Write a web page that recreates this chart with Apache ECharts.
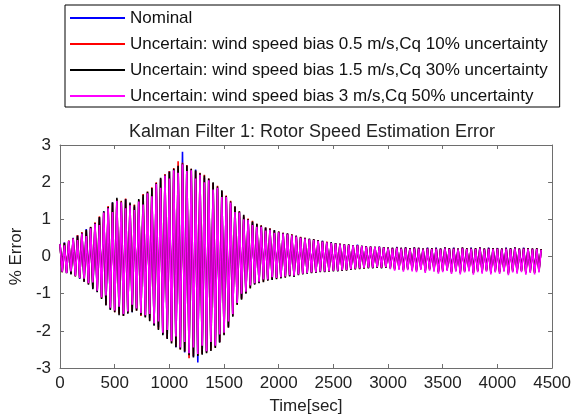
<!DOCTYPE html>
<html>
<head>
<meta charset="utf-8">
<script src="https://cdn.jsdelivr.net/npm/echarts@6/dist/echarts.min.js"></script>
<style>
html,body{margin:0;padding:0;background:#fff;}
#chart{width:574px;height:420px;}
</style>
</head>
<body>
<div id="chart"></div>
<script>
// ---- data ----
var sampleStep = 20; // seconds between samples
var xTicks = [0, 500, 1000, 1500, 2000, 2500, 3000, 3500, 4000, 4500];
var yTicks = [-3, -2, -1, 0, 1, 2, 3];
var seriesNames = [
  'Nominal',
  'Uncertain: wind speed bias 0.5 m/s,Cq 10% uncertainty',
  'Uncertain: wind speed bias 1.5 m/s,Cq 30% uncertainty',
  'Uncertain: wind speed bias 3 m/s,Cq 50% uncertainty'
];

var nominal = [
0.34,-0.40,0.38,-0.44,0.41,-0.47,0.50,-0.50,0.57,-0.60,
0.63,-0.68,0.74,-0.70,0.78,-0.86,0.86,-0.95,1.05,-1.08,
1.22,-1.30,1.28,-1.42,1.45,-1.44,1.48,-1.50,1.44,-1.58,
1.55,-1.50,1.36,-1.50,1.33,-1.42,1.50,-1.55,1.60,-1.62,
1.72,-1.66,1.80,-1.84,1.98,-1.90,2.08,-2.10,2.15,-2.20,
2.30,-2.26,2.35,-2.44,2.42,-2.48,2.82,-2.58,2.44,-2.62,
2.30,-2.70,2.34,-2.85,2.18,-2.60,2.12,-2.56,2.08,-2.45,
1.98,-2.42,1.82,-2.30,1.75,-2.02,1.62,-1.88,1.42,-1.58,
1.33,-1.22,1.20,-1.12,1.06,-0.97,1.00,-0.80,0.92,-0.74,
0.86,-0.70,0.82,-0.64,0.77,-0.63,0.70,-0.62,0.70,-0.57,
0.66,-0.58,0.63,-0.52,0.62,-0.51,0.55,-0.53,0.56,-0.47,
0.52,-0.45,0.49,-0.45,0.47,-0.42,0.46,-0.43,0.43,-0.39,
0.42,-0.41,0.37,-0.38,0.38,-0.37,0.36,-0.39,0.34,-0.36,
0.33,-0.35,0.32,-0.35,0.31,-0.32,0.32,-0.31,0.29,-0.30,
0.28,-0.29,0.27,-0.31,0.26,-0.28,0.27,-0.29,0.25,-0.28,
0.24,-0.29,0.23,-0.31,0.26,-0.30,0.23,-0.33,0.25,-0.31,
0.22,-0.32,0.25,-0.34,0.23,-0.30,0.21,-0.36,0.24,-0.32,
0.22,-0.33,0.24,-0.38,0.21,-0.35,0.25,-0.33,0.22,-0.39,
0.24,-0.34,0.21,-0.40,0.24,-0.36,0.22,-0.34,0.24,-0.41,
0.22,-0.35,0.25,-0.38,0.21,-0.35,0.24,-0.40,0.22,-0.36,
0.23,-0.39,0.21,-0.35,0.24,-0.42,0.22,-0.36,0.25,-0.38,
0.21,-0.35,0.24,-0.41,0.22,-0.37,0.21,-0.40,0.22,-0.36,0.20
];

var bias05 = [
0.33,-0.42,0.37,-0.43,0.43,-0.46,0.49,-0.53,0.58,-0.58,
0.66,-0.67,0.71,-0.74,0.80,-0.85,0.92,-0.93,1.08,-1.12,
1.20,-1.30,1.36,-1.40,1.44,-1.50,1.55,-1.54,1.50,-1.60,
1.56,-1.52,1.42,-1.47,1.40,-1.45,1.52,-1.60,1.68,-1.62,
1.75,-1.72,1.86,-1.82,2.00,-1.95,2.10,-2.08,2.22,-2.20,
2.30,-2.32,2.38,-2.40,2.56,-2.50,2.52,-2.55,2.46,-2.74,
2.36,-2.68,2.30,-2.66,2.25,-2.62,2.20,-2.58,2.10,-2.52,
1.98,-2.45,1.90,-2.30,1.76,-2.10,1.64,-1.90,1.50,-1.60,
1.34,-1.30,1.22,-1.14,1.10,-0.98,1.02,-0.85,0.96,-0.74,
0.88,-0.70,0.84,-0.68,0.78,-0.64,0.76,-0.61,0.70,-0.60,
0.67,-0.57,0.64,-0.56,0.62,-0.52,0.60,-0.53,0.56,-0.49,
0.53,-0.47,0.50,-0.45,0.47,-0.44,0.46,-0.43,0.44,-0.41,
0.41,-0.41,0.40,-0.40,0.37,-0.39,0.36,-0.38,0.35,-0.38,
0.33,-0.37,0.32,-0.35,0.31,-0.34,0.31,-0.33,0.29,-0.32,
0.28,-0.31,0.27,-0.31,0.26,-0.30,0.26,-0.31,0.25,-0.30,
0.24,-0.31,0.23,-0.34,0.25,-0.32,0.23,-0.36,0.24,-0.33,
0.22,-0.35,0.24,-0.37,0.23,-0.32,0.21,-0.39,0.23,-0.34,
0.22,-0.36,0.23,-0.41,0.21,-0.38,0.24,-0.35,0.22,-0.42,
0.23,-0.37,0.21,-0.43,0.24,-0.39,0.22,-0.36,0.23,-0.44,
0.22,-0.38,0.24,-0.41,0.21,-0.37,0.23,-0.43,0.22,-0.39,
0.23,-0.42,0.21,-0.37,0.23,-0.45,0.22,-0.39,0.24,-0.41,
0.21,-0.38,0.23,-0.44,0.22,-0.40,0.21,-0.43,0.22,-0.39,0.20
];

var bias15 = [
0.32,-0.42,0.36,-0.45,0.42,-0.48,0.48,-0.54,0.56,-0.59,
0.64,-0.68,0.72,-0.76,0.79,-0.88,0.90,-0.96,1.06,-1.14,
1.22,-1.32,1.33,-1.44,1.46,-1.50,1.58,-1.58,1.48,-1.60,
1.54,-1.54,1.45,-1.50,1.38,-1.46,1.55,-1.58,1.66,-1.64,
1.74,-1.74,1.84,-1.86,1.97,-1.98,2.12,-2.12,2.20,-2.22,
2.28,-2.34,2.36,-2.44,2.44,-2.50,2.50,-2.56,2.45,-2.66,
2.36,-2.72,2.32,-2.68,2.24,-2.64,2.18,-2.60,2.10,-2.54,
2.00,-2.46,1.88,-2.32,1.78,-2.12,1.62,-1.92,1.48,-1.62,
1.35,-1.30,1.22,-1.16,1.12,-1.00,1.00,-0.86,0.94,-0.76,
0.88,-0.72,0.83,-0.69,0.78,-0.65,0.75,-0.63,0.71,-0.61,
0.67,-0.59,0.64,-0.57,0.62,-0.54,0.59,-0.55,0.56,-0.50,
0.52,-0.48,0.50,-0.46,0.48,-0.45,0.46,-0.44,0.44,-0.42,
0.42,-0.42,0.39,-0.41,0.38,-0.40,0.36,-0.40,0.34,-0.39,
0.33,-0.38,0.32,-0.36,0.31,-0.35,0.31,-0.34,0.29,-0.33,
0.28,-0.32,0.27,-0.32,0.26,-0.31,0.26,-0.32,0.25,-0.31,
0.24,-0.32,0.23,-0.35,0.25,-0.33,0.23,-0.37,0.24,-0.34,
0.22,-0.36,0.24,-0.38,0.23,-0.33,0.21,-0.40,0.23,-0.35,
0.22,-0.37,0.23,-0.42,0.21,-0.39,0.24,-0.36,0.22,-0.43,
0.23,-0.38,0.21,-0.44,0.24,-0.40,0.22,-0.37,0.23,-0.45,
0.22,-0.39,0.24,-0.42,0.21,-0.38,0.23,-0.44,0.22,-0.40,
0.23,-0.43,0.21,-0.38,0.23,-0.46,0.22,-0.40,0.24,-0.42,
0.21,-0.39,0.23,-0.45,0.22,-0.41,0.21,-0.44,0.22,-0.40,0.20
];

var bias3 = [
0.33,-0.41,0.30,-0.45,0.42,-0.40,0.48,-0.52,0.44,-0.58,
0.62,-0.60,0.55,-0.72,0.76,-0.70,0.88,-0.92,0.85,-1.10,
1.18,-1.05,1.30,-1.38,1.20,-1.45,1.50,-1.35,1.46,-1.55,
1.30,-1.48,1.38,-1.30,1.25,-1.40,1.48,-1.52,1.40,-1.58,
1.70,-1.55,1.62,-1.80,1.95,-1.75,1.85,-2.05,2.18,-1.98,
2.10,-2.28,2.32,-2.15,2.25,-2.45,2.48,-2.30,2.30,-2.60,
2.32,-2.45,2.10,-2.62,2.20,-2.40,2.00,-2.55,2.05,-2.30,
1.80,-2.40,1.85,-2.10,1.60,-2.05,1.60,-1.75,1.45,-1.55,
1.20,-1.25,1.18,-1.00,1.00,-0.95,0.98,-0.78,0.85,-0.72,
0.80,-0.68,0.80,-0.62,0.70,-0.62,0.72,-0.56,0.64,-0.58,
0.65,-0.56,0.62,-0.54,0.60,-0.50,0.57,-0.52,0.54,-0.48,
0.50,-0.46,0.48,-0.44,0.46,-0.43,0.44,-0.42,0.42,-0.40,
0.40,-0.40,0.38,-0.39,0.36,-0.38,0.35,-0.38,0.33,-0.37,
0.32,-0.36,0.31,-0.34,0.30,-0.33,0.30,-0.32,0.28,-0.31,
0.27,-0.30,0.26,-0.30,0.25,-0.29,0.25,-0.30,0.24,-0.29,
0.22,-0.34,0.21,-0.38,0.23,-0.36,0.21,-0.41,0.22,-0.37,
0.20,-0.40,0.22,-0.42,0.21,-0.36,0.19,-0.44,0.21,-0.38,
0.20,-0.41,0.21,-0.46,0.19,-0.42,0.22,-0.39,0.20,-0.47,
0.21,-0.41,0.19,-0.48,0.22,-0.43,0.20,-0.40,0.21,-0.49,
0.20,-0.42,0.22,-0.46,0.19,-0.41,0.21,-0.48,0.20,-0.43,
0.21,-0.47,0.19,-0.41,0.21,-0.50,0.20,-0.43,0.22,-0.46,
0.19,-0.42,0.21,-0.49,0.20,-0.44,0.19,-0.48,0.20,-0.43,0.18
];

var seriesColors = ['#0000ff', '#ff0000', '#000000', '#ff00ff'];
var seriesValues = [nominal, bias05, bias15, bias3];

function toPairs(arr) {
  return arr.map(function (v, i) { return [i * sampleStep, v]; });
}

var FONT = 'Liberation Sans, Arial, sans-serif';
var chart = echarts.init(document.getElementById('chart'), null, {renderer: 'canvas'});

var axisCommon = {
  type: 'value',
  axisLine: {show: true, onZero: false, lineStyle: {color: '#6e6e6e', width: 1}},
  axisTick: {show: true, inside: true, length: 4, lineStyle: {color: '#6e6e6e'}},
  splitLine: {show: false}
};
function plainNum(v) { return String(v); }

var option = {
  animation: false,
  backgroundColor: '#fff',
  title: {
    text: 'Kalman Filter 1: Rotor Speed Estimation Error',
    left: 307, top: 118, textAlign: 'center',
    textStyle: {fontFamily: FONT, fontSize: 18, fontWeight: 'normal', color: '#222'}
  },
  legend: {
    orient: 'vertical',
    left: 65, top: 5,
    data: seriesNames,
    icon: 'rect',
    itemWidth: 55, itemHeight: 2,
    itemGap: 8,
    padding: [4, 12, 2, 5],
    borderColor: '#000', borderWidth: 1,
    backgroundColor: '#fff',
    textStyle: {fontFamily: FONT, fontSize: 17, color: '#111', lineHeight: 18}
  },
  grid: {left: 57, right: 17, top: 145, bottom: 50, containLabel: false},
  xAxis: [
    Object.assign({}, axisCommon, {
      min: xTicks[0], max: xTicks[xTicks.length - 1], interval: 500,
      position: 'bottom',
      name: 'Time[sec]', nameLocation: 'middle', nameGap: 30,
      nameTextStyle: {fontFamily: FONT, fontSize: 17, color: '#222'},
      axisLabel: {fontFamily: FONT, fontSize: 17, color: '#222', margin: 7, formatter: plainNum}
    }),
    Object.assign({}, axisCommon, {
      min: xTicks[0], max: xTicks[xTicks.length - 1], interval: 500,
      position: 'top', axisLabel: {show: false}
    })
  ],
  yAxis: [
    Object.assign({}, axisCommon, {
      min: yTicks[0], max: yTicks[yTicks.length - 1], interval: 1,
      position: 'left',
      name: '% Error', nameLocation: 'middle', nameGap: 28,
      nameTextStyle: {fontFamily: FONT, fontSize: 17, color: '#222'},
      axisLabel: {fontFamily: FONT, fontSize: 17, color: '#222', margin: 9, formatter: plainNum}
    }),
    Object.assign({}, axisCommon, {
      min: yTicks[0], max: yTicks[yTicks.length - 1], interval: 1,
      position: 'right', axisLabel: {show: false}
    })
  ],
  series: seriesNames.map(function (name, k) {
    return {
      name: name,
      type: 'line',
      xAxisIndex: 0, yAxisIndex: 0,
      data: toPairs(seriesValues[k]),
      showSymbol: false, symbol: 'none',
      sampling: null,
      itemStyle: {color: seriesColors[k]},
      lineStyle: {color: seriesColors[k], width: 1.6},
      z: 2 + k
    };
  })
};
chart.setOption(option);
</script>
</body>
</html>
